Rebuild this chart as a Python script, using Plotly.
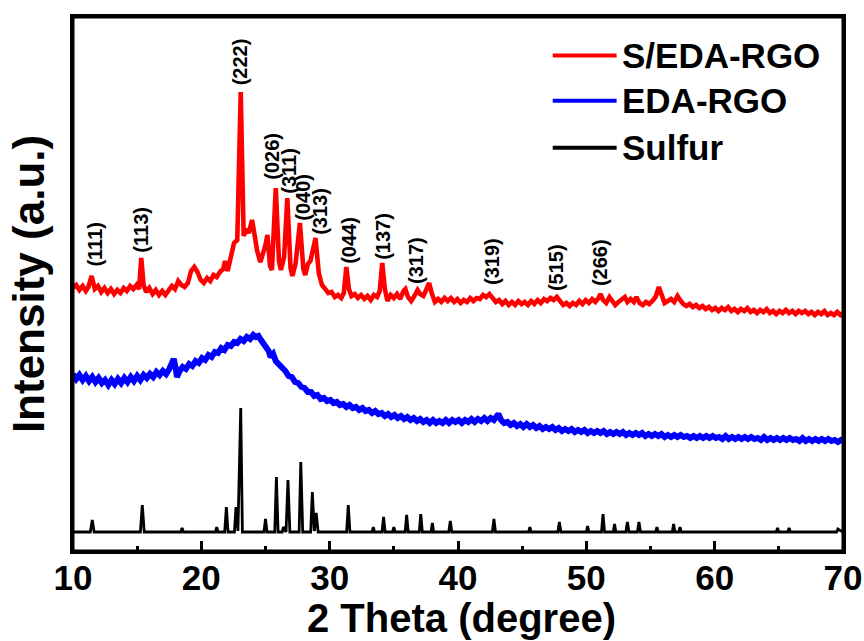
import plotly.graph_objects as go

# ---- S/EDA-RGO composite (red): (2theta, intensity a.u.) ----
red_points = [
    (10.0, 263), (10.25, 266), (10.5, 261), (10.75, 265), (11.0, 260), (11.2, 264), (11.45, 275),
    (11.7, 262), (11.95, 265), (12.2, 259), (12.45, 263), (12.7, 258), (12.95, 262), (13.2, 257),
    (13.45, 261), (13.7, 258), (13.95, 263), (14.2, 260), (14.45, 265), (14.7, 262), (14.95, 266),
    (15.15, 262), (15.32, 293), (15.5, 266), (15.7, 259), (15.95, 263), (16.2, 257), (16.45, 261),
    (16.7, 256), (16.95, 260), (17.2, 256), (17.45, 261), (17.7, 265), (17.95, 262), (18.2, 270),
    (18.45, 266), (18.7, 264), (18.95, 268), (19.2, 280), (19.45, 284), (19.7, 279), (19.95, 271),
    (20.2, 268), (20.45, 273), (20.7, 270), (20.95, 276), (21.2, 274), (21.45, 279), (21.7, 282),
    (21.85, 290), (22.05, 280), (22.3, 294), (22.55, 308), (22.8, 311), (23.07, 459), (23.3, 315),
    (23.5, 322), (23.7, 318), (23.95, 331), (24.15, 316), (24.35, 300), (24.6, 289), (24.8, 296),
    (25.0, 306), (25.15, 316), (25.35, 285), (25.5, 281), (25.8, 363), (26.05, 290), (26.2, 281),
    (26.45, 294), (26.7, 353), (26.95, 283), (27.1, 275), (27.35, 288), (27.68, 328), (27.95, 282),
    (28.1, 276), (28.3, 287), (28.5, 290), (28.9, 313), (29.15, 278), (29.4, 266), (29.65, 262),
    (29.9, 258), (30.15, 259), (30.4, 254), (30.65, 256), (30.9, 253), (31.1, 258), (31.3, 284),
    (31.5, 262), (31.7, 255), (31.95, 257), (32.2, 253), (32.45, 256), (32.7, 252), (32.95, 255),
    (33.2, 251), (33.45, 256), (33.7, 254), (33.9, 260), (34.1, 288), (34.3, 262), (34.5, 250),
    (34.75, 256), (35.0, 253), (35.25, 257), (35.5, 252), (35.75, 260), (35.9, 262), (36.1, 254),
    (36.35, 250), (36.6, 255), (36.85, 261), (37.05, 257), (37.3, 255), (37.55, 262), (37.75, 268),
    (37.95, 258), (38.2, 249), (38.45, 252), (38.7, 249), (38.95, 253), (39.2, 250), (39.45, 253),
    (39.7, 249), (39.95, 252), (40.2, 248), (40.45, 251), (40.7, 249), (40.95, 253), (41.2, 250),
    (41.45, 253), (41.7, 252), (41.95, 256), (42.2, 254), (42.45, 257), (42.7, 253), (42.95, 249),
    (43.2, 251), (43.45, 247), (43.7, 250), (43.95, 246), (44.2, 249), (44.45, 246), (44.7, 250),
    (44.95, 247), (45.2, 249), (45.45, 246), (45.7, 250), (45.95, 247), (46.2, 251), (46.45, 248),
    (46.7, 252), (46.95, 250), (47.2, 253), (47.45, 251), (47.7, 254), (47.95, 249), (48.2, 246),
    (48.45, 248), (48.7, 245), (48.95, 248), (49.2, 246), (49.45, 250), (49.7, 247), (49.95, 251),
    (50.2, 248), (50.45, 252), (50.7, 249), (50.95, 253), (51.1, 257), (51.3, 251), (51.55, 248),
    (51.8, 254), (52.0, 250), (52.25, 246), (52.5, 249), (52.75, 252), (53.0, 254), (53.2, 249),
    (53.45, 252), (53.7, 249), (53.9, 254), (54.15, 248), (54.4, 246), (54.65, 249), (54.9, 247),
    (55.15, 250), (55.4, 254), (55.65, 264), (55.85, 256), (56.1, 248), (56.35, 250), (56.6, 252),
    (56.85, 249), (57.1, 255), (57.3, 251), (57.55, 247), (57.8, 245), (58.05, 247), (58.3, 244),
    (58.55, 246), (58.8, 243), (59.05, 245), (59.3, 242), (59.55, 244), (59.8, 241), (60.05, 243),
    (60.3, 240), (60.55, 243), (60.8, 241), (61.05, 244), (61.3, 240), (61.55, 242), (61.8, 239),
    (62.05, 242), (62.3, 240), (62.55, 243), (62.8, 239), (63.05, 241), (63.3, 238), (63.55, 241),
    (63.8, 239), (64.05, 242), (64.3, 238), (64.55, 240), (64.8, 237), (65.05, 240), (65.3, 238),
    (65.55, 241), (65.8, 238), (66.05, 240), (66.3, 237), (66.55, 240), (66.8, 238), (67.05, 240),
    (67.3, 237), (67.55, 239), (67.8, 236), (68.05, 239), (68.3, 237), (68.55, 240), (68.8, 236),
    (69.05, 238), (69.3, 236), (69.55, 239), (69.8, 236), (70.0, 238),
]

# ---- EDA-RGO (blue): (2theta, intensity a.u.) ----
blue_points = [
    (10.0, 177), (10.25, 172), (10.5, 176), (10.75, 171), (11.0, 175), (11.25, 170), (11.5, 174),
    (11.75, 169), (12.0, 173), (12.25, 168), (12.5, 171), (12.75, 166), (13.0, 171), (13.25, 167),
    (13.5, 172), (13.75, 168), (14.0, 173), (14.25, 169), (14.5, 174), (14.75, 170), (15.0, 175),
    (15.25, 171), (15.5, 176), (15.75, 173), (16.0, 177), (16.25, 174), (16.5, 179), (16.75, 176),
    (17.0, 180), (17.25, 177), (17.5, 182), (17.7, 188), (17.85, 192), (18.0, 183), (18.1, 174),
    (18.3, 180), (18.55, 184), (18.8, 182), (19.05, 187), (19.3, 185), (19.55, 190), (19.8, 188),
    (20.05, 193), (20.3, 191), (20.55, 196), (20.8, 194), (21.05, 199), (21.3, 198), (21.55, 203),
    (21.8, 201), (22.05, 206), (22.3, 205), (22.55, 209), (22.8, 208), (23.05, 212), (23.3, 210),
    (23.55, 214), (23.8, 212), (24.05, 216), (24.25, 214), (24.45, 215), (24.65, 211), (24.85, 208),
    (25.05, 203), (25.25, 200), (25.4, 194), (25.6, 197), (25.8, 190), (26.05, 187), (26.3, 182),
    (26.55, 180), (26.8, 175), (27.05, 174), (27.3, 169), (27.55, 168), (27.8, 164), (28.05, 163),
    (28.3, 159), (28.55, 159), (28.8, 155), (29.05, 156), (29.3, 152), (29.55, 153), (29.8, 150),
    (30.05, 151), (30.3, 148), (30.55, 149), (30.8, 146), (31.05, 147), (31.3, 144), (31.55, 146),
    (31.8, 143), (32.05, 144), (32.3, 141), (32.55, 143), (32.8, 140), (33.05, 141), (33.3, 138),
    (33.55, 140), (33.8, 137), (34.05, 138), (34.3, 135), (34.55, 137), (34.8, 134), (35.05, 136),
    (35.3, 133), (35.55, 135), (35.8, 132), (36.05, 134), (36.3, 131), (36.55, 133), (36.8, 130),
    (37.05, 132), (37.3, 129), (37.55, 131), (37.8, 128), (38.05, 131), (38.3, 128), (38.55, 130),
    (38.8, 128), (39.05, 131), (39.3, 128), (39.55, 131), (39.8, 129), (40.05, 131), (40.3, 128),
    (40.55, 131), (40.8, 129), (41.05, 132), (41.3, 129), (41.55, 132), (41.8, 130), (42.05, 133),
    (42.3, 130), (42.55, 133), (42.8, 131), (43.0, 134), (43.15, 137), (43.35, 131), (43.6, 128),
    (43.85, 129), (44.1, 126), (44.35, 128), (44.6, 125), (44.85, 127), (45.1, 124), (45.35, 127),
    (45.6, 124), (45.85, 126), (46.1, 123), (46.35, 125), (46.6, 122), (46.85, 124), (47.1, 122),
    (47.35, 124), (47.6, 121), (47.85, 123), (48.1, 120), (48.35, 122), (48.6, 120), (48.85, 122),
    (49.1, 119), (49.35, 121), (49.6, 119), (49.85, 121), (50.1, 118), (50.35, 120), (50.6, 118),
    (50.85, 120), (51.1, 118), (51.35, 120), (51.6, 117), (51.85, 119), (52.1, 117), (52.35, 119),
    (52.6, 117), (52.85, 119), (53.1, 116), (53.35, 118), (53.6, 116), (53.85, 118), (54.1, 116),
    (54.35, 118), (54.6, 115), (54.85, 117), (55.1, 115), (55.35, 117), (55.6, 115), (55.85, 117),
    (56.1, 114), (56.35, 116), (56.6, 114), (56.85, 116), (57.1, 114), (57.35, 116), (57.6, 114),
    (57.85, 115), (58.1, 113), (58.35, 115), (58.6, 113), (58.85, 115), (59.1, 113), (59.35, 115),
    (59.6, 113), (59.85, 115), (60.1, 113), (60.35, 114), (60.6, 112), (60.85, 115), (61.1, 112),
    (61.35, 114), (61.6, 112), (61.85, 114), (62.1, 112), (62.35, 114), (62.6, 112), (62.85, 114),
    (63.1, 112), (63.35, 113), (63.6, 111), (63.85, 114), (64.1, 111), (64.35, 113), (64.6, 111),
    (64.85, 113), (65.1, 111), (65.35, 113), (65.6, 111), (65.85, 113), (66.1, 111), (66.35, 112),
    (66.6, 110), (66.85, 113), (67.1, 110), (67.35, 112), (67.6, 110), (67.85, 112), (68.1, 110),
    (68.35, 112), (68.6, 110), (68.85, 112), (69.1, 110), (69.35, 111), (69.6, 109), (69.85, 111),
    (70.0, 110),
]

# ---- elemental sulfur reference (black) ----
blk_tt = [10.0, 11.35, 11.5, 11.65, 15.25, 15.4, 15.55, 18.4, 18.5, 18.6, 21.1, 21.2, 21.3,
          21.82, 21.95, 22.08, 22.58, 22.7, 22.85, 23.07, 23.2, 24.88, 25.0, 25.12, 25.72,
          25.85, 25.98, 26.3, 26.4, 26.6, 26.75, 26.9, 27.62, 27.75, 27.9, 28.52, 28.65,
          28.8, 28.95, 29.1, 31.32, 31.45, 31.58, 33.3, 33.4, 33.5, 34.08, 34.2, 34.32, 34.9,
          35.0, 35.1, 35.88, 36.0, 36.12, 36.98, 37.1, 37.22, 37.9, 38.0, 38.1, 39.28, 39.4,
          39.52, 42.68, 42.8, 42.92, 45.5, 45.6, 45.7, 47.78, 47.9, 48.02, 50.0, 50.1, 50.2,
          51.18, 51.3, 51.42, 52.1, 52.2, 52.3, 53.08, 53.2, 53.32, 53.98, 54.1, 54.22, 55.4,
          55.5, 55.6, 56.7, 56.8, 56.9, 57.2, 57.3, 57.4, 64.8, 64.9, 65.0, 65.7, 65.8, 65.9,
          69.5, 69.6, 70.0]
blk_int = [19, 19, 31, 19, 19, 46, 19, 19, 23, 19, 19, 24, 19,
           19, 44, 19, 19, 44, 20, 143, 19, 19, 32, 19, 19,
           74, 19, 19, 24, 19, 71, 19, 19, 89, 19, 19, 59,
           20, 38, 19, 19, 46, 19, 19, 24, 19, 19, 34, 19, 19,
           24, 19, 19, 36, 19, 19, 37, 19, 19, 28, 19, 19, 30,
           19, 19, 32, 19, 19, 24, 19, 19, 29, 19, 19, 25, 19,
           19, 37, 19, 19, 27, 19, 19, 29, 19, 19, 29, 19, 19,
           24, 19, 19, 27, 19, 19, 24, 19, 19, 23, 19, 19, 23, 19,
           19, 22, 19]

# ---- Miller-index labels for the composite pattern ----
hkl_text = ["(111)", "(113)", "(222)", "(026)", "(311)", "(040)", "(313)",
            "(044)", "(137)", "(317)", "(319)", "(515)", "(266)"]
hkl_tt = [11.68, 15.27, 23.04, 25.48, 26.81, 27.9, 29.23, 31.49, 34.14, 36.72, 42.65, 47.64, 51.07]
hkl_y = [306, 321, 489, 395, 380, 354, 340, 311, 315, 291, 289, 283, 288]

x_ticks = [10, 20, 30, 40, 50, 60, 70]
x_minor = [15, 25, 35, 45, 55, 65]

red_tt, red_int = zip(*red_points)
blue_tt, blue_int = zip(*blue_points)

series = [
    ("S/EDA-RGO", red_tt, red_int, "#ff0000", 4.6),
    ("EDA-RGO", blue_tt, blue_int, "#0000ff", 6.0),
    ("Sulfur", blk_tt, blk_int, "#000000", 2.8),
]

fig = go.Figure()
for name, xs, ys, color, w in series:
    fig.add_trace(go.Scatter(x=list(xs), y=list(ys), mode="lines", name=name,
                             line=dict(color=color, width=w), showlegend=False))

sans = "Liberation Sans, Arial, sans-serif"
label_font = dict(family=sans, size=20, color="black")
annotations = []
for t, xv, yv in zip(hkl_text, hkl_tt, hkl_y):
    annotations.append(dict(x=xv, y=yv, xref="x", yref="y", text="<b>%s</b>" % t,
                            showarrow=False, textangle=-90, font=label_font,
                            xanchor="center", yanchor="middle"))

# hand-built legend: sample line + bold name per series
legend_rows = [0.928, 0.843, 0.755]
for (name, _, _, color, _), ry in zip(series, legend_rows):
    fig.add_shape(type="line", xref="paper", yref="paper", x0=0.623, x1=0.706,
                  y0=ry, y1=ry, line=dict(color=color, width=4))
    annotations.append(dict(x=0.71, y=ry, xref="paper", yref="paper",
                            text="<b>%s</b>" % name, showarrow=False,
                            xanchor="left", yanchor="middle",
                            font=dict(family=sans, size=35, color="black")))

# x-axis title, placed below the tick labels
annotations.append(dict(x=0.504, y=-0.1255, xref="paper", yref="paper",
                        text="<b>2 Theta (degree)</b>", showarrow=False,
                        xanchor="center", yanchor="middle",
                        font=dict(family=sans, size=40, color="black")))

# closed plot frame
fig.add_shape(type="rect", xref="paper", yref="paper", x0=0, x1=1, y0=0, y1=1,
              line=dict(color="black", width=3), fillcolor="rgba(0,0,0,0)", layer="above")

fig.update_layout(
    width=864, height=641,
    margin=dict(l=73, r=21, t=17, b=90, autoexpand=False),
    paper_bgcolor="white", plot_bgcolor="white",
    annotations=annotations,
    xaxis=dict(range=[10, 70], tickmode="array", tickvals=x_ticks,
               ticktext=["<b>%d</b>" % v for v in x_ticks],
               ticks="inside", ticklen=10, tickwidth=3, tickcolor="black",
               minor=dict(tickvals=x_minor, ticks="inside", ticklen=5,
                          tickwidth=3, tickcolor="black"),
               ticklabeloverflow="allow", ticklabelstandoff=-6, automargin=False,
               showline=True, linewidth=3, linecolor="black", mirror=True,
               showgrid=False, zeroline=False,
               tickfont=dict(family=sans, size=35, color="black")),
    yaxis=dict(range=[0, 534], showticklabels=False, ticks="", automargin=False,
               showline=True, linewidth=3, linecolor="black", mirror=True,
               showgrid=False, zeroline=False,
               title=dict(text="<b>Intensity (a.u.)</b>", standoff=12,
                          font=dict(family=sans, size=44, color="black"))),
)

fig.write_html("out.html")
